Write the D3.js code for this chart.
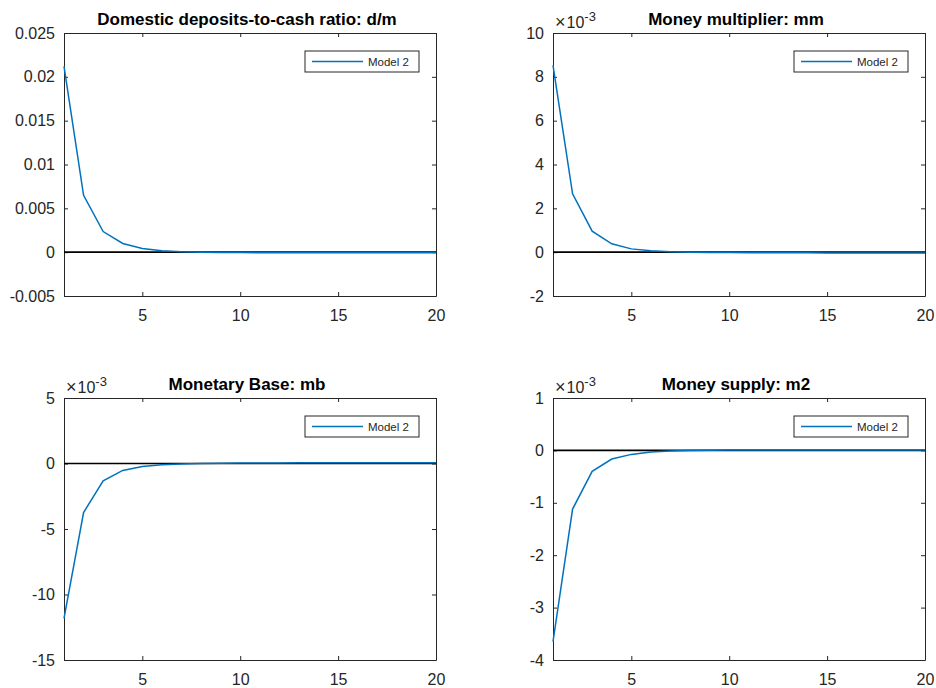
<!DOCTYPE html>
<html>
<head>
<meta charset="utf-8">
<script src="https://cdn.jsdelivr.net/npm/d3@7"></script>
<style>
  body { margin: 0; background: #fff; }
  svg, svg text { font-family: "Liberation Sans", Arial, Helvetica, sans-serif; }
</style>
</head>
<body>
<svg id="chart" width="936" height="688"></svg>
<script>
/* global d3 */
const periods = d3.range(1, 21);
const xTicks = [5, 10, 15, 20];

// impulse responses
const dmRatio = [0.0212, 0.00648, 0.00235, 0.00099, 0.00042, 0.00016, 0.00005, 0.0,
  -0.00003, -0.00005, -0.00006, -0.00007, -0.00007, -0.00008, -0.00008, -0.00008,
  -0.00008, -0.00008, -0.00008, -0.00008];
const moneyMult = [8.52, 2.66, 0.96, 0.38, 0.15, 0.06, 0.02, 0.0, -0.01, -0.02,
  -0.025, -0.03, -0.03, -0.03, -0.035, -0.035, -0.035, -0.035, -0.035, -0.035];
const monBase = [-11.82, -3.74, -1.32, -0.53, -0.23, -0.09, -0.03, 0.0, 0.02, 0.03,
  0.04, 0.04, 0.05, 0.05, 0.05, 0.05, 0.05, 0.05, 0.05, 0.05];
const moneySupply = [-3.65, -1.12, -0.40, -0.165, -0.076, -0.03, -0.01, 0.0, 0.004, 0.006,
  0.007, 0.008, 0.008, 0.008, 0.008, 0.008, 0.008, 0.008, 0.008, 0.008];

const dmTicks = [-0.005, 0, 0.005, 0.01, 0.015, 0.02, 0.025];
const mmTicks = [-2, 0, 2, 4, 6, 8, 10];
const mbTicks = [-15, -10, -5, 0, 5];
const m2Ticks = [-4, -3, -2, -1, 0, 1];

const titles = ['Domestic deposits-to-cash ratio: d/m', 'Money multiplier: mm',
  'Monetary Base: mb', 'Money supply: m2'];
const seriesName = 'Model 2';

const panels = [
  { title: titles[0], values: dmRatio, ticks: dmTicks, exp: false, box: [64, 33, 436, 296] },
  { title: titles[1], values: moneyMult, ticks: mmTicks, exp: true, box: [553, 33, 925, 296] },
  { title: titles[2], values: monBase, ticks: mbTicks, exp: true, box: [64, 398, 436, 660] },
  { title: titles[3], values: moneySupply, ticks: m2Ticks, exp: true, box: [553, 398, 925, 660] },
];

const axisColor = '#262626';
const lineColor = '#0072BD';
const font = '"Liberation Sans", Arial, Helvetica, sans-serif';
const svg = d3.select('#chart');

function fmt(v) {
  return v === 0 ? '0' : String(v);
}

function drawPanel(p) {
  const [x0, y0, x1, y1] = p.box;
  const x = d3.scaleLinear().domain([1, 20]).range([x0, x1]);
  const y = d3.scaleLinear().domain(d3.extent(p.ticks)).range([y1, y0]);
  const g = svg.append('g');

  // box ticks on all four sides, pointing in
  g.append('g').attr('transform', `translate(0,${y1})`)
    .call(d3.axisBottom(x).tickValues(xTicks).tickSizeInner(-4).tickSizeOuter(0).tickPadding(14).tickFormat(d3.format('d')));
  g.append('g').attr('transform', `translate(0,${y0})`)
    .call(d3.axisTop(x).tickValues(xTicks).tickSizeInner(-4).tickSizeOuter(0).tickFormat(''));
  g.append('g').attr('transform', `translate(${x0},0)`)
    .call(d3.axisLeft(y).tickValues(p.ticks).tickSizeInner(-4).tickSizeOuter(0).tickPadding(9).tickFormat(fmt));
  g.append('g').attr('transform', `translate(${x1},0)`)
    .call(d3.axisRight(y).tickValues(p.ticks).tickSizeInner(-4).tickSizeOuter(0).tickFormat(''));

  g.selectAll('g').attr('font-family', font).attr('font-size', 16);
  g.selectAll('.domain').attr('stroke', axisColor).attr('stroke-width', 1);
  g.selectAll('.tick line').attr('stroke', axisColor).attr('stroke-width', 1);
  g.selectAll('.tick text').attr('fill', axisColor);

  // zero line
  g.append('line')
    .attr('x1', x0).attr('x2', x1)
    .attr('y1', y(0)).attr('y2', y(0))
    .attr('stroke', '#000').attr('stroke-width', 1.6);

  const line = d3.line().x((d, i) => x(periods[i])).y(d => y(d));
  g.append('path')
    .datum(p.values)
    .attr('fill', 'none')
    .attr('stroke', lineColor)
    .attr('stroke-width', 1.5)
    .attr('d', line);

  // title
  g.append('text')
    .attr('x', (x0 + x1) / 2 - 3)
    .attr('y', y0 - 8)
    .attr('text-anchor', 'middle')
    .attr('font-weight', 'bold')
    .attr('font-size', 17)
    .attr('fill', '#000')
    .text(p.title);

  if (p.exp) {
    const t = g.append('text')
      .attr('x', x0 + 2)
      .attr('y', y0 - 5)
      .attr('font-size', 16)
      .attr('fill', axisColor);
    t.append('tspan').attr('font-size', 18).text('\u00d7');
    t.append('tspan').attr('dx', 1).text('10');
    t.append('tspan').attr('dy', -7).attr('font-size', 13).text('-3');
  }

  // legend
  const lx = x1 - 131;
  const ly = y0 + 18;
  const lg = g.append('g').attr('transform', `translate(${lx},${ly})`);
  lg.append('rect')
    .attr('width', 114).attr('height', 21)
    .attr('fill', '#fff').attr('stroke', axisColor).attr('stroke-width', 1);
  lg.append('line')
    .attr('x1', 7).attr('x2', 58).attr('y1', 10.5).attr('y2', 10.5)
    .attr('stroke', lineColor).attr('stroke-width', 1.5);
  lg.append('text')
    .attr('x', 63).attr('y', 15)
    .attr('font-size', 11.5)
    .attr('fill', axisColor)
    .text(seriesName);
}

panels.forEach(drawPanel);
</script>
</body>
</html>
